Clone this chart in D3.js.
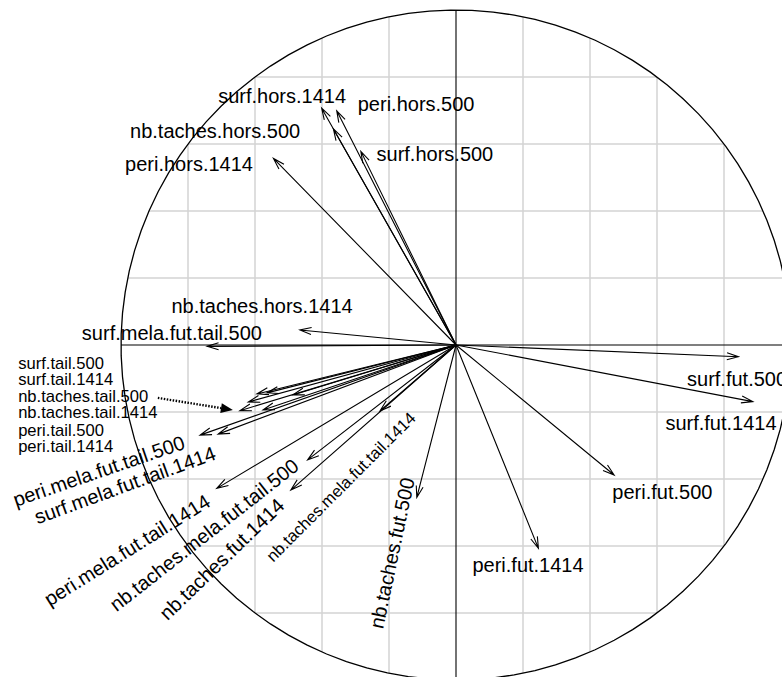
<!DOCTYPE html>
<html>
<head>
<meta charset="utf-8">
<script src="https://cdn.jsdelivr.net/npm/d3@7"></script>
<style>
  html, body { margin: 0; padding: 0; background: #fff; }
  svg { display: block; }
  text { font-family: "Liberation Sans", Arial, Helvetica, sans-serif; fill: #000; }
</style>
</head>
<body>
<svg id="chart" width="782" height="677"></svg>
<script>
// Correlation circle: variable loadings on the first two components
const variables = [
  "surf.hors.1414", "peri.hors.500", "nb.taches.hors.500", "surf.hors.500",
  "peri.hors.1414", "nb.taches.hors.1414", "surf.mela.fut.tail.500",
  "surf.tail.500", "surf.tail.1414", "nb.taches.tail.500", "nb.taches.tail.1414",
  "peri.tail.500", "peri.tail.1414",
  "peri.mela.fut.tail.500", "surf.mela.fut.tail.1414", "peri.mela.fut.tail.1414",
  "nb.taches.mela.fut.tail.500", "nb.taches.fut.1414", "nb.taches.mela.fut.tail.1414",
  "nb.taches.fut.500", "peri.fut.1414", "peri.fut.500", "surf.fut.500", "surf.fut.1414"
];
const axis1 = [
  -0.401, -0.356, -0.366, -0.284,
  -0.545, -0.466, -0.743,
  -0.487, -0.564, -0.594, -0.645,
  -0.576, -0.620,
  -0.764, -0.710, -0.714,
  -0.443, -0.493, -0.227,
  -0.117, 0.246, 0.472, 0.843, 0.886
];
const axis2 = [
  0.707, 0.699, 0.645, 0.578,
  0.557, 0.045, -0.004,
  -0.149, -0.143, -0.146, -0.196,
  -0.194, -0.170,
  -0.269, -0.266, -0.428,
  -0.343, -0.433, -0.197,
  -0.455, -0.607, -0.388, -0.035, -0.169
];

// Grid values (every 0.2 inside the unit circle)
const gridValues = [-0.8, -0.6, -0.4, -0.2, 0.2, 0.4, 0.6, 0.8];

// Label placement in component units
const labelText = [
  "surf.hors.1414", "peri.hors.500", "nb.taches.hors.500", "surf.hors.500",
  "peri.hors.1414", "nb.taches.hors.1414", "surf.mela.fut.tail.500",
  "surf.fut.500", "surf.fut.1414", "peri.fut.500", "peri.fut.1414",
  "peri.mela.fut.tail.500", "surf.mela.fut.tail.1414", "peri.mela.fut.tail.1414",
  "nb.taches.mela.fut.tail.500", "nb.taches.fut.1414", "nb.taches.mela.fut.tail.1414",
  "nb.taches.fut.500",
  "surf.tail.500", "surf.tail.1414", "nb.taches.tail.500", "nb.taches.tail.1414",
  "peri.tail.500", "peri.tail.1414"
];
const labelX = [
  -0.519, -0.119, -0.719, -0.063,
  -0.797, -0.579, -0.848,
  0.839, 0.791, 0.616, 0.215,
  -1.066, -0.988, -0.982,
  -0.752, -0.699, -0.343,
  -0.191,
  -1.307, -1.307, -1.307, -1.307, -1.307, -1.307
];
const labelY = [
  0.743, 0.719, 0.639, 0.570,
  0.540, 0.116, 0.036,
  -0.101, -0.233, -0.439, -0.657,
  -0.376, -0.418, -0.612,
  -0.567, -0.639, -0.424,
  -0.621,
  -0.054, -0.104, -0.154, -0.200, -0.254, -0.304
];
const labelAngle = [
  0, 0, 0, 0, 0, 0, 0,
  0, 0, 0, 0,
  -19, -20, -32,
  -38, -44, -45,
  -78,
  0, 0, 0, 0, 0, 0
];
const labelSmall = [
  false, false, false, false, false, false, false,
  false, false, false, false,
  false, false, false,
  false, false, true,
  false,
  true, true, true, true, true, true
];

// Dotted pointer from the tail list to the tail arrows
const pointerFrom = [-0.890, -0.158];
const pointerTo = [-0.666, -0.194];

const svg = d3.select("#chart");
const cx = 456, cy = 345, R = 335;
const x = d3.scaleLinear().domain([-1, 1]).range([cx - R, cx + R]);
const y = d3.scaleLinear().domain([-1, 1]).range([cy + R, cy - R]);

svg.append("rect").attr("width", 782).attr("height", 677).attr("fill", "#fff");

// Grid clipped to the circle
const g = svg.append("g");
gridValues.forEach(v => {
  const h = Math.sqrt(1 - v * v);
  g.append("line")
    .attr("x1", x(v)).attr("x2", x(v)).attr("y1", y(-h)).attr("y2", y(h))
    .attr("stroke", "#d3d3d3").attr("stroke-width", 1.5);
  g.append("line")
    .attr("x1", x(-h)).attr("x2", x(h)).attr("y1", y(v)).attr("y2", y(v))
    .attr("stroke", "#d3d3d3").attr("stroke-width", 1.5);
});

// Axes through the origin
svg.append("line").attr("x1", x(-1)).attr("x2", x(1)).attr("y1", y(0)).attr("y2", y(0))
  .attr("stroke", "#000").attr("stroke-width", 1.1);
svg.append("line").attr("x1", x(0)).attr("x2", x(0)).attr("y1", y(-1)).attr("y2", y(1))
  .attr("stroke", "#000").attr("stroke-width", 1.1);

// Unit circle as a 100-point polygon
const circlePts = d3.range(100).map(i => {
  const a = i / 99 * 2 * Math.PI;
  return [x(Math.cos(a)), y(Math.sin(a))];
});
svg.append("path")
  .attr("d", d3.line()(circlePts))
  .attr("fill", "none").attr("stroke", "#000").attr("stroke-width", 1.3);

// Arrows from the origin
const headLen = 12, headAng = 17 * Math.PI / 180;
const arrows = svg.append("g").attr("stroke", "#000").attr("stroke-width", 1.1).attr("fill", "none");
variables.forEach((name, i) => {
  const x0 = x(0), y0 = y(0), x1 = x(axis1[i]), y1 = y(axis2[i]);
  const ang = Math.atan2(y1 - y0, x1 - x0);
  const b1 = [x1 - headLen * Math.cos(ang - headAng), y1 - headLen * Math.sin(ang - headAng)];
  const b2 = [x1 - headLen * Math.cos(ang + headAng), y1 - headLen * Math.sin(ang + headAng)];
  arrows.append("path")
    .attr("d", `M${x0},${y0}L${x1},${y1}M${b1[0]},${b1[1]}L${x1},${y1}L${b2[0]},${b2[1]}`);
});

// Labels
labelText.forEach((t, i) => {
  const px = x(labelX[i]), py = y(labelY[i]);
  const tail = labelX[i] < -1.2;
  svg.append("text")
    .attr("x", px).attr("y", py)
    .attr("text-anchor", tail ? "start" : "middle")
    .attr("dominant-baseline", "central")
    .attr("font-size", labelSmall[i] ? 16.6 : 20)
    .attr("transform", labelAngle[i] ? `rotate(${labelAngle[i]},${px},${py})` : null)
    .text(t);
});

// Dotted pointer with a filled head
const p0 = [x(pointerFrom[0]), y(pointerFrom[1])], p1 = [x(pointerTo[0]), y(pointerTo[1])];
const pa = Math.atan2(p1[1] - p0[1], p1[0] - p0[0]);
const tl = 12, tw = 5;
const base = [p1[0] - tl * Math.cos(pa), p1[1] - tl * Math.sin(pa)];
svg.append("line")
  .attr("x1", p0[0]).attr("y1", p0[1]).attr("x2", base[0]).attr("y2", base[1])
  .attr("stroke", "#000").attr("stroke-width", 2.4).attr("stroke-dasharray", "1.5,1.5");
svg.append("path")
  .attr("d", `M${p1[0]},${p1[1]}L${base[0] + tw * Math.sin(pa)},${base[1] - tw * Math.cos(pa)}L${base[0] - tw * Math.sin(pa)},${base[1] + tw * Math.cos(pa)}Z`)
  .attr("fill", "#000");
</script>
</body>
</html>
